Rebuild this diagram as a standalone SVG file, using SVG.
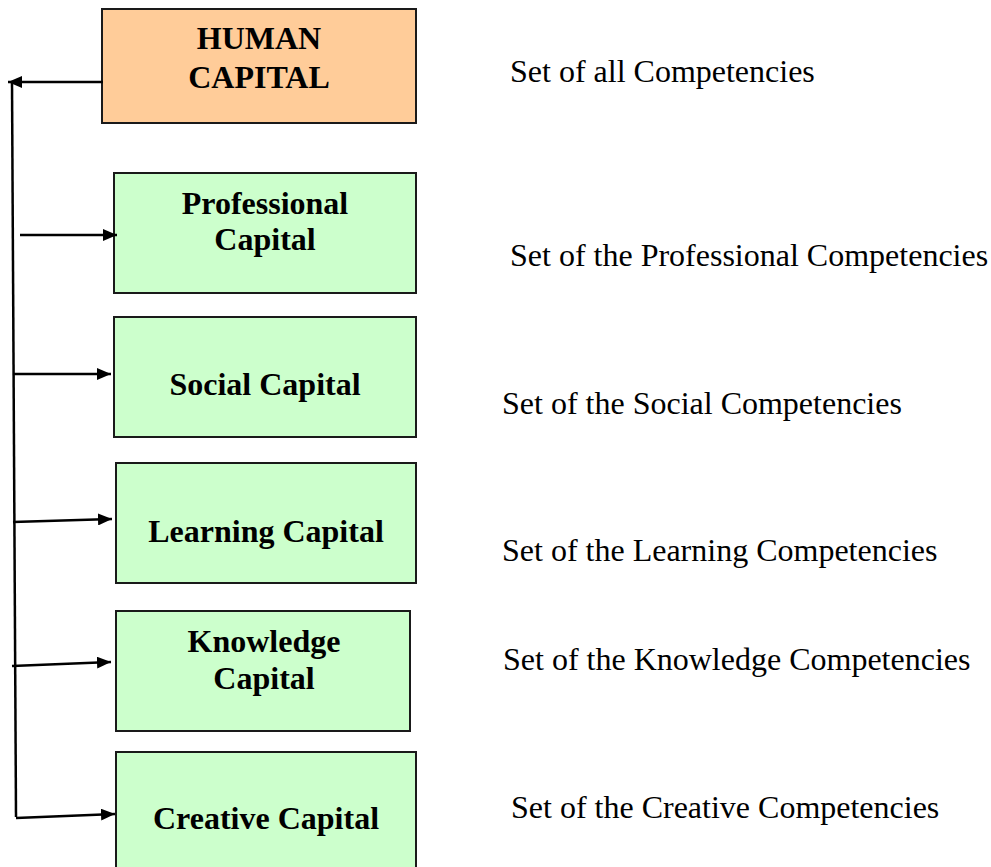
<svg xmlns="http://www.w3.org/2000/svg" width="991" height="867" viewBox="0 0 991 867">
<defs>
<style>
.box{stroke:#1a1a1a;stroke-width:2}
.hc{fill:#FFCC99}
.gc{fill:#CCFFCC}
.bt{font-family:"Liberation Serif","Times New Roman",serif;font-weight:bold;font-size:32px;fill:#000;text-anchor:middle}
.rt{font-family:"Liberation Serif","Times New Roman",serif;font-size:32px;fill:#000}
.ln{stroke:#000;stroke-width:2.5;fill:none}
</style>
<marker id="ah" viewBox="0 0 14 12" refX="14" refY="6" markerWidth="14" markerHeight="12" markerUnits="userSpaceOnUse" orient="auto"><path d="M0,0L14,6L0,12z" fill="#000"/></marker>
</defs>
<rect width="991" height="867" fill="#fff"/>
<g id="human"><rect class="box hc" x="102" y="9" width="314" height="114"/><text class="bt" x="259" y="49">HUMAN</text><text class="bt" x="259" y="88">CAPITAL</text></g>
<g id="professional"><rect class="box gc" x="114" y="173" width="302" height="120"/><text class="bt" x="265" y="214">Professional</text><text class="bt" x="265" y="250">Capital</text></g>
<g id="social"><rect class="box gc" x="114" y="317" width="302" height="120"/><text class="bt" x="265" y="395">Social Capital</text></g>
<g id="learning"><rect class="box gc" x="116" y="463" width="300" height="120"/><text class="bt" x="266" y="542">Learning Capital</text></g>
<g id="knowledge"><rect class="box gc" x="116" y="611" width="294" height="120"/><text class="bt" x="264" y="652">Knowledge</text><text class="bt" x="264" y="689">Capital</text></g>
<g id="creative"><rect class="box gc" x="116" y="752" width="300" height="130"/><text class="bt" x="266" y="829">Creative Capital</text></g>
<g id="labels">
<text class="rt" x="510" y="82">Set of all Competencies</text>
<text class="rt" x="510" y="266">Set of the Professional Competencies</text>
<text class="rt" x="502" y="414">Set of the Social Competencies</text>
<text class="rt" x="502" y="561">Set of the Learning Competencies</text>
<text class="rt" x="503" y="670">Set of the Knowledge Competencies</text>
<text class="rt" x="511" y="818">Set of the Creative Competencies</text>
</g>
<g id="connectors">
<line class="ln" x1="12" y1="82" x2="16" y2="817"/>
<line class="ln" x1="103" y1="82" x2="8" y2="82" marker-end="url(#ah)"/>
<line class="ln" x1="20" y1="235" x2="117" y2="235" marker-end="url(#ah)"/>
<line class="ln" x1="14" y1="374" x2="111" y2="374" marker-end="url(#ah)"/>
<line class="ln" x1="13" y1="522" x2="112" y2="519" marker-end="url(#ah)"/>
<line class="ln" x1="12" y1="666" x2="111" y2="662" marker-end="url(#ah)"/>
<line class="ln" x1="16" y1="818" x2="115" y2="814" marker-end="url(#ah)"/>
</g>
</svg>
